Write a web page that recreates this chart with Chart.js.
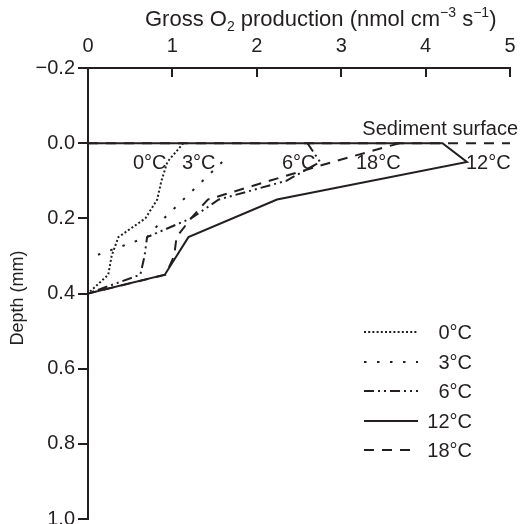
<!DOCTYPE html>
<html>
<head>
<meta charset="utf-8">
<script src="https://cdn.jsdelivr.net/npm/chart.js@4/dist/chart.umd.min.js"></script>
<style>
  html, body { margin: 0; padding: 0; background: #ffffff; }
  #wrap { width: 523px; height: 524px; position: relative; }
</style>
</head>
<body>
<div id="wrap"><canvas id="c" width="523" height="524"></canvas></div>
<script>
// Gross O2 production profiles by incubation temperature
const temperatures = ['0°C', '3°C', '6°C', '12°C', '18°C'];

const depth0 = [0, 0.05, 0.10, 0.15, 0.20, 0.25, 0.30, 0.35, 0.40];
const prod0 = [1.13, 0.94, 0.87, 0.82, 0.68, 0.36, 0.28, 0.24, 0];

const depth3 = [0.05, 0.10, 0.15, 0.20, 0.25, 0.30];
const prod3 = [1.59, 1.36, 1.13, 0.90, 0.70, 0.08];

const depth6 = [0, 0.05, 0.10, 0.15, 0.20, 0.25, 0.30, 0.35, 0.40];
const prod6 = [2.60, 2.75, 2.35, 1.55, 1.22, 0.70, 0.67, 0.62, 0];

const depth12 = [0, 0, 0.05, 0.15, 0.25, 0.35, 0.40];
const prod12 = [0, 4.20, 4.49, 2.24, 1.19, 0.91, 0];

const depth18 = [0, 0.05, 0.10, 0.15, 0.20, 0.25, 0.30, 0.35, 0.40];
const prod18 = [3.69, 2.90, 2.15, 1.42, 1.22, 1.05, 1.02, 0.92, 0];

// sediment–water interface
const surfaceDepth = [0, 0];
const surfaceProd = [0, 5];

const xTicks = [0, 1, 2, 3, 4, 5];
const yTicks = [-0.2, 0, 0.2, 0.4, 0.6, 0.8, 1.0];

const INK = '#231f20';
const FONT = '"Liberation Sans", Arial, Helvetica, sans-serif';

const toPoints = (xs, ys) => xs.map((v, i) => ({ x: v, y: ys[i] }));

const lineStyles = [
  { borderDash: [2, 2.2] },            // 0°C dense dots
  { borderDash: [2.5, 10.5] },         // 3°C sparse dots
  { borderDash: [10, 4, 2, 4, 2, 4] }, // 6°C dash-dot-dot
  { borderDash: [] },                  // 12°C solid
  { borderDash: [10, 8] }              // 18°C dashes
];

const series = [
  toPoints(prod0, depth0),
  toPoints(prod3, depth3),
  toPoints(prod6, depth6),
  toPoints(prod12, depth12),
  toPoints(prod18, depth18)
];

const datasets = series.map((pts, i) => ({
  label: temperatures[i],
  data: pts,
  showLine: true,
  pointRadius: 0,
  borderColor: INK,
  borderWidth: 2,
  borderDash: lineStyles[i].borderDash,
  borderCapStyle: 'butt',
  borderJoinStyle: 'miter',
  tension: 0,
  fill: false
}));

datasets.push({
  label: 'Sediment surface',
  data: toPoints(surfaceProd, surfaceDepth),
  showLine: true,
  pointRadius: 0,
  borderColor: INK,
  borderWidth: 2,
  borderDash: [10, 8],
  borderCapStyle: 'butt',
  fill: false
});

// Inward tick marks on the top axis, titles, in-plot labels and the key
const decorations = {
  id: 'decorations',
  afterDraw(chart) {
    const ctx = chart.ctx;
    const xs = chart.scales.x;
    const area = chart.chartArea;
    ctx.save();
    ctx.strokeStyle = INK;
    ctx.fillStyle = INK;
    ctx.lineWidth = 2;

    // top-axis ticks pointing down into the plot
    xs.ticks.forEach(t => {
      const px = Math.round(xs.getPixelForValue(t.value));
      ctx.beginPath();
      ctx.moveTo(px, area.top);
      ctx.lineTo(px, area.top + 9);
      ctx.stroke();
    });

    // axis title with subscript and superscripts
    const titleFont = '22px ' + FONT;
    const small = '14px ' + FONT;
    const parts = [
      ['Gross O', titleFont, 0],
      ['2', small, 5],
      [' production (nmol cm', titleFont, 0],
      ['\u22123', small, -9],
      [' s', titleFont, 0],
      ['\u22121', small, -9],
      [')', titleFont, 0]
    ];
    let x = 145;
    const base = 26;
    ctx.textBaseline = 'alphabetic';
    ctx.textAlign = 'left';
    parts.forEach(([txt, f, dy]) => {
      ctx.font = f;
      ctx.fillText(txt, x, base + dy);
      x += ctx.measureText(txt).width;
    });

    // depth axis title
    ctx.save();
    ctx.translate(23, 298);
    ctx.rotate(-Math.PI / 2);
    ctx.font = '18px ' + FONT;
    ctx.textAlign = 'center';
    ctx.textBaseline = 'alphabetic';
    ctx.fillText('Depth (mm)', 0, 0);
    ctx.restore();

    // labels next to the profiles
    const big = '20px ' + FONT;
    ctx.font = big;
    ctx.textAlign = 'left';
    const tags = [
      ['0°C', 133, 169],
      ['3°C', 182, 169],
      ['6°C', 282, 169],
      ['18°C', 356, 169],
      ['12°C', 466, 169]
    ];
    tags.forEach(([t, lx, ly]) => ctx.fillText(t, lx, ly));
    ctx.textAlign = 'right';
    ctx.fillText('Sediment surface', 518, 135);

    // key
    const rows = [332, 362, 391, 421, 450];
    temperatures.forEach((t, i) => {
      const y = rows[i];
      ctx.setLineDash(lineStyles[i].borderDash);
      ctx.lineCap = 'butt';
      ctx.beginPath();
      ctx.moveTo(364, y);
      ctx.lineTo(418, y);
      ctx.stroke();
      ctx.setLineDash([]);
      ctx.textAlign = 'right';
      ctx.fillText(t, 472, y + 7);
    });
    ctx.restore();
  }
};

const fmtDepth = v => {
  const r = Math.round(v * 10) / 10;
  return (r < 0 ? '\u2212' : '') + Math.abs(r).toFixed(1);
};

new Chart(document.getElementById('c'), {
  type: 'scatter',
  data: { datasets },
  options: {
    responsive: false,
    animation: false,
    devicePixelRatio: 1,
    layout: { padding: { left: 0, top: 0, right: 13, bottom: 5 } },
    plugins: { legend: { display: false }, tooltip: { enabled: false } },
    scales: {
      x: {
        type: 'linear',
        position: 'top',
        min: 0,
        max: 5,
        afterBuildTicks: s => { s.ticks = xTicks.map(v => ({ value: v })); },
        afterFit: s => { s.height = 68; s.paddingLeft = 0; s.paddingRight = 0; },
        ticks: {
          color: INK,
          font: { family: FONT, size: 20 },
          padding: 10,
          autoSkip: false,
          maxRotation: 0,
          callback: v => String(v)
        },
        grid: { display: false, drawTicks: false },
        border: { display: true, color: INK, width: 2 }
      },
      y: {
        type: 'linear',
        reverse: true,
        min: -0.2,
        max: 1.0,
        afterBuildTicks: s => { s.ticks = yTicks.map(v => ({ value: v })); },
        afterFit: s => { s.width = 88; s.paddingTop = 0; s.paddingBottom = 0; },
        ticks: {
          color: INK,
          font: { family: FONT, size: 20 },
          padding: 3,
          autoSkip: false,
          callback: v => fmtDepth(v)
        },
        grid: {
          display: true,
          drawOnChartArea: false,
          drawTicks: true,
          tickLength: 10,
          lineWidth: 2,
          color: INK
        },
        border: { display: true, color: INK, width: 2 }
      }
    }
  },
  plugins: [decorations]
});
</script>
</body>
</html>
